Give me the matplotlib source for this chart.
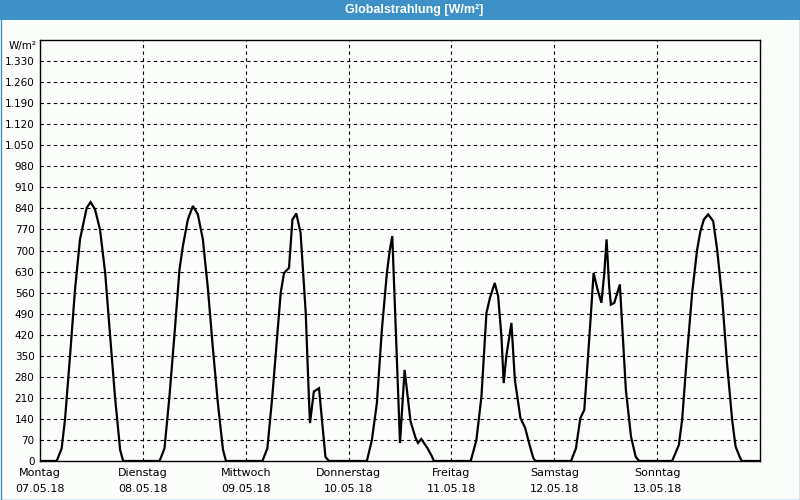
import matplotlib
matplotlib.use("Agg")
import matplotlib.pyplot as plt
import numpy as np

# ---- data (hour of day, W/m²) per day ----
days = ["Montag", "Dienstag", "Mittwoch", "Donnerstag", "Freitag", "Samstag", "Sonntag"]
dates = ["07.05.18", "08.05.18", "09.05.18", "10.05.18", "11.05.18", "12.05.18", "13.05.18"]

h_mon = [0, 3.9, 5.05, 5.83, 7.0, 8.17, 9.33, 10.9, 11.8, 12.83, 14.0, 15.2, 16.3, 17.5, 18.7, 19.4]
v_mon = [0, 0, 42, 137, 348, 570, 737, 842, 861, 837, 770, 627, 427, 213, 37, 0]

h_tue = [0, 3.9, 5.05, 6.2, 7.4, 8.55, 9.33, 10.5, 11.67, 12.83, 14.0, 15.2, 16.3, 17.5, 18.7, 19.4]
v_tue = [0, 0, 42, 214, 425, 637, 714, 803, 848, 820, 737, 570, 381, 193, 37, 0]

h_wed = [0, 3.9, 5.05, 6.2, 7.4, 8.17, 8.94, 10.1, 10.9, 11.8, 12.8, 14.0, 14.7, 15.0, 15.9, 17.1, 18.6, 19.4]
v_wed = [0, 0, 42, 214, 425, 560, 625, 642, 803, 823, 759, 493, 226, 126, 231, 242, 14, 0]

h_thu = [0, 4.27, 5.44, 6.6, 7.77, 8.94, 9.6, 10.2, 12.0, 13.07, 14.47, 15.63, 16.2, 16.96, 18.4, 19.5, 19.9]
v_thu = [0, 0, 70, 192, 437, 625, 700, 748, 60, 303, 131, 77, 60, 73, 43, 14, 0]

h_fri = [0, 4.5, 5.83, 7.0, 8.17, 8.94, 10.1, 10.9, 11.67, 12.2, 12.8, 14.0, 14.8, 16.1, 17.2, 18.3, 19.1, 19.6]
v_fri = [0, 0, 70, 214, 492, 540, 592, 548, 414, 259, 348, 459, 270, 143, 110, 50, 10, 0]

h_sat = [0, 3.9, 5.05, 6.07, 7.0, 7.77, 8.56, 9.17, 10.1, 11.0, 11.67, 12.2, 12.8, 13.2, 14.0, 15.3, 15.9, 16.7, 17.9, 19.0, 19.8]
v_sat = [0, 0, 42, 142, 170, 326, 492, 625, 570, 526, 625, 737, 581, 520, 526, 587, 437, 237, 81, 14, 0]

h_sun = [0, 3.5, 5.06, 5.83, 7.0, 8.17, 9.33, 10.1, 10.9, 11.9, 13.07, 14.0, 15.2, 16.3, 17.5, 18.3, 19.4, 19.8, 24]
v_sun = [0, 0, 53, 137, 359, 559, 703, 764, 803, 820, 798, 703, 537, 326, 137, 48, 9, 0, 0]

y_ticks = list(range(0, 1331, 70))

# ---- build series ----
hours_list = [h_mon, h_tue, h_wed, h_thu, h_fri, h_sat, h_sun]
vals_list = [v_mon, v_tue, v_wed, v_thu, v_fri, v_sat, v_sun]
t, v = [], []
for d, (hh, vv) in enumerate(zip(hours_list, vals_list)):
    t.extend([d * 24 + h for h in hh])
    v.extend(vv)

bg = "#fbfdfb"
blue = "#3d91c6"

fig = plt.figure(figsize=(8, 5), dpi=100, facecolor=bg)
ax = fig.add_axes([40 / 800, 39 / 500, 720 / 800, 421 / 500])
ax.set_facecolor(bg)

ax.plot(t, v, color="black", lw=1.6, solid_joinstyle="miter", zorder=3)

ax.set_xlim(0, 168)
ax.set_ylim(0, 1400)
ax.set_yticks(y_ticks)
ax.set_yticklabels([f"{y:,}".replace(",", ".") for y in y_ticks], fontsize=7.5)
ax.set_xticks([24 * i for i in range(7)])
ax.set_xticklabels([f"{d}\n{dt}" for d, dt in zip(days, dates)], fontsize=8, linespacing=1.7)
ax.tick_params(axis="y", length=0, pad=4)
ax.tick_params(axis="x", length=0, pad=5)

for y in y_ticks[1:]:
    ax.axhline(y, color="black", lw=0.8, ls=(0, (3, 3)), zorder=1)
for x in range(24, 168, 24):
    ax.axvline(x, color="black", lw=0.8, ls=(0, (3, 3)), zorder=1)

for s in ax.spines.values():
    s.set_linewidth(1.0)
    s.set_color("black")

# unit label
fig.text(23 / 800, 1 - 46 / 500, "W/m²", fontsize=7.5, ha="center", va="center")

# title bar
fig.patches.append(plt.Rectangle((0, 1 - 20 / 500), 1, 20 / 500, transform=fig.transFigure,
                                 facecolor=blue, edgecolor="none", zorder=0))
fig.text(414 / 800, 1 - 10 / 500, "Globalstrahlung [W/m²]", color="white", fontsize=9,
         fontweight="bold", ha="center", va="center", family="Liberation Sans")

# window border
fig.patches.append(plt.Rectangle((0.5 / 800, 0.5 / 500), 799 / 800, 499 / 500, transform=fig.transFigure,
                                 facecolor="none", edgecolor=blue, lw=1.0, zorder=5))

fig.savefig("out.png", dpi=100, facecolor=bg)
